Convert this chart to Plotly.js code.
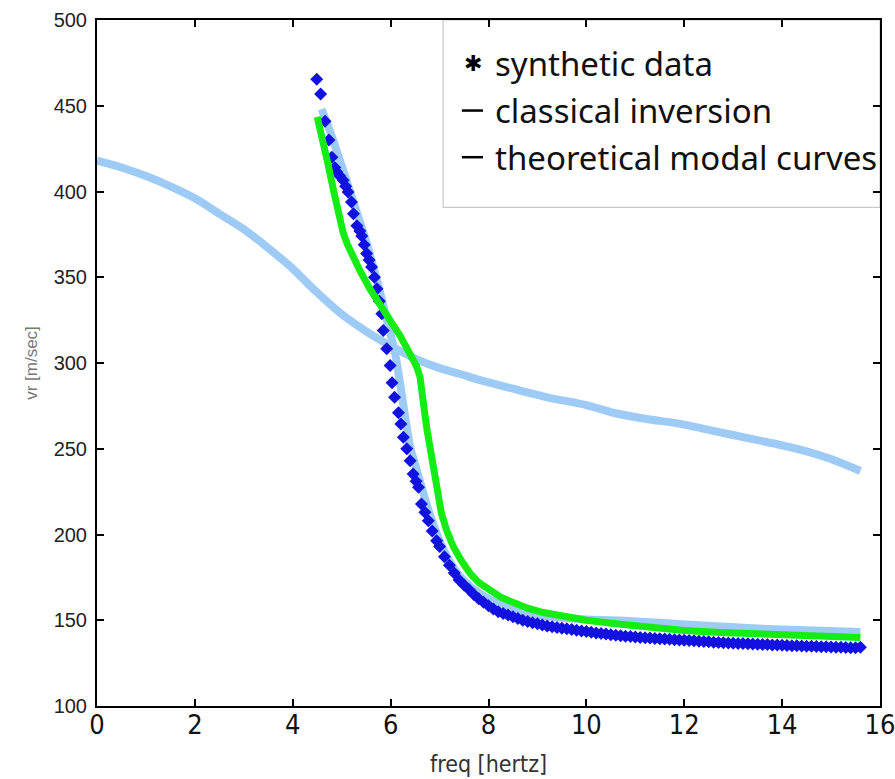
<!DOCTYPE html>
<html>
<head>
<meta charset="utf-8">
<script src="https://cdn.plot.ly/plotly-3.0.1.min.js"></script>
<style>
  html, body { margin: 0; padding: 0; background: #ffffff; }
  #chart { width: 895px; height: 779px; }
</style>
</head>
<body>
<div id="chart"></div>
<script>
// ---- data ----
// fundamental theoretical modal curve (light blue)
const fundFreq = [0.0, 0.5, 1.0, 1.5, 2.0, 2.5, 3.0, 3.5, 4.0, 4.5, 5.0, 5.5, 6.0, 6.5, 7.0, 7.42, 7.83, 8.5, 9.2, 10.0, 10.55, 11.2, 11.92, 12.5, 13.0, 13.5, 14.0, 14.5, 15.0, 15.6];
const fundVel  = [418, 414, 409, 403, 396, 387, 378, 367, 355, 341, 328.5, 318.5, 310, 302.5, 297, 293.6, 290, 285, 280, 275.5, 271, 267.5, 264.5, 261, 258, 255, 252, 248.5, 244, 237];

// higher theoretical modal curve (light blue)
const mode2Freq = [4.59, 4.75, 5.0, 5.25, 5.51, 5.75, 5.95, 6.09, 6.22, 6.3, 6.4, 6.5, 6.6, 6.7, 6.8, 6.95, 7.1, 7.3, 7.5, 7.8, 8.1, 8.5, 9.0, 9.5, 10.0, 10.69, 11.5, 12.38, 13.5, 14.5, 15.6];
const mode2Vel  = [448, 436, 415, 393, 370, 345, 322, 306, 283, 268, 251, 241, 231, 221, 212, 200, 190, 180, 173, 166, 161, 156.5, 153, 151.5, 150.5, 149.8, 148.5, 146.9, 145.2, 144.2, 143.2];

// synthetic data (blue diamonds)
const dataFreq = [4.49, 4.57, 4.66, 4.74, 4.80, 4.86, 4.90, 4.96, 5.03, 5.08, 5.13, 5.20, 5.24, 5.31, 5.37, 5.41, 5.46, 5.51, 5.56, 5.61, 5.67, 5.72, 5.77, 5.82, 5.85, 5.92, 5.99, 6.03, 6.08, 6.16, 6.21, 6.26, 6.33, 6.40, 6.46, 6.52, 6.57, 6.63, 6.70, 6.77, 6.85, 6.94,
  7.0, 7.1, 7.2, 7.3, 7.4, 7.5, 7.6, 7.7, 7.8, 7.9, 8.0, 8.1, 8.2, 8.3, 8.4, 8.5, 8.6, 8.7, 8.8, 8.9, 9.0, 9.1, 9.2, 9.3, 9.4, 9.5, 9.6, 9.7, 9.8, 9.9,
  10.0, 10.1, 10.2, 10.3, 10.4, 10.5, 10.6, 10.7, 10.8, 10.9, 11.0, 11.1, 11.2, 11.3, 11.4, 11.5, 11.6, 11.7, 11.8, 11.9,
  12.0, 12.1, 12.2, 12.3, 12.4, 12.5, 12.6, 12.7, 12.8, 12.9, 13.0, 13.1, 13.2, 13.3, 13.4, 13.5, 13.6, 13.7, 13.8, 13.9,
  14.0, 14.1, 14.2, 14.3, 14.4, 14.5, 14.6, 14.7, 14.8, 14.9, 15.0, 15.1, 15.2, 15.3, 15.4, 15.5, 15.6];
const dataVel = [465.5, 456.8, 441, 430, 420, 414, 411.4, 409, 406.6, 403, 399.7, 393.9, 387, 380, 377, 374, 369, 363.8, 360, 356, 350, 343.3, 336, 328.7, 319, 308.3, 298.5, 288.5, 280, 271, 264.5, 256.7, 250, 243, 235.3, 231, 227.5, 217.8, 213, 208, 202, 196.3,
  193, 187, 182, 177.5, 173.5, 170.5, 168, 165, 162.5, 160.5, 158.5, 156.5, 155, 154, 153, 152, 151, 150, 149.3, 148.6, 148, 147.3, 146.7, 146.2, 145.7, 145.3, 145, 144.6, 144.2, 143.8,
  143.4, 143, 142.6, 142.3, 142, 141.6, 141.2, 140.9, 140.7, 140.5, 140.2, 140, 139.8, 139.6, 139.4, 139.2, 139, 138.9, 138.7, 138.5,
  138.3, 138.2, 138, 137.8, 137.6, 137.4, 137.2, 137, 136.9, 136.8, 136.6, 136.5, 136.4, 136.3, 136.2, 136, 135.9, 135.8, 135.6, 135.5,
  135.4, 135.3, 135.2, 135.1, 135, 134.9, 134.8, 134.7, 134.6, 134.5, 134.4, 134.3, 134.2, 134.1, 134, 134, 134.2];

// classical inversion (green)
const invFreq = [4.50, 4.56, 4.62, 4.72, 4.83, 4.93, 5.03, 5.12, 5.2, 5.37, 5.58, 5.78, 6.0, 6.19, 6.40, 6.53, 6.60, 6.63, 6.67, 6.70, 6.75, 6.80, 6.86, 6.91, 6.97, 7.04, 7.15, 7.28, 7.45, 7.62, 7.8, 8.03, 8.25, 8.51, 8.8, 9.12, 9.4, 9.66, 10.0, 10.69, 11.5, 12.0, 12.73, 13.5, 14.2, 15.0, 15.6];
const invVel  = [443.5, 437, 430, 416, 401, 388, 376, 369, 364, 354, 343, 334, 325, 316, 305, 298, 292, 287, 278, 270, 260, 251, 240, 231, 221, 212, 202, 193, 184.5, 177.5, 172, 167, 163.5, 160.3, 157, 154.5, 153, 151.6, 150, 147.7, 145, 144, 142.8, 142, 141.3, 140.6, 140];

const xTickVals = [0, 2, 4, 6, 8, 10, 12, 14, 16];
const yTickVals = [100, 150, 200, 250, 300, 350, 400, 450, 500];

const legendLabels = ['synthetic data', 'classical inversion', 'theoretical modal curves'];
const xTitle = 'freq [hertz]';
const yTitle = 'vr [m/sec]';

// ---- styles ----
const lightBlue = '#9dcbf6';
const dotBlue = '#1212e0';
const green = '#14ec14';

const traces = [
  { x: fundFreq, y: fundVel, type: 'scatter', mode: 'lines',
    line: { color: lightBlue, width: 8, shape: 'spline', smoothing: 0.9 }, hoverinfo: 'skip' },
  { x: mode2Freq, y: mode2Vel, type: 'scatter', mode: 'lines',
    line: { color: lightBlue, width: 8, shape: 'spline', smoothing: 0.6 }, hoverinfo: 'skip' },
  { x: dataFreq, y: dataVel, type: 'scatter', mode: 'markers',
    marker: { symbol: 'diamond', size: 10, color: dotBlue, line: { width: 0 } } },
  { x: invFreq, y: invVel, type: 'scatter', mode: 'lines',
    line: { color: green, width: 7 } }
];

const tickFontX = { family: 'Liberation Sans Narrow, DejaVu Sans Condensed, Arial, sans-serif', size: 27, color: '#111' };
const tickFontY = { family: 'Liberation Sans, Arial, sans-serif', size: 20, color: '#222' };
const legFont = { family: 'Noto Sans, Open Sans, sans-serif', size: 33, color: '#111' };

// legend rows in paper coordinates
const rowY = [0.937, 0.868, 0.800];
const annotations = legendLabels.map((t, i) => ({
  xref: 'paper', yref: 'paper', x: 0.506, y: rowY[i], xanchor: 'left', yanchor: 'middle',
  text: t, showarrow: false, font: legFont
}));
annotations.push({
  xref: 'paper', yref: 'paper', x: 0.480, y: rowY[0], xanchor: 'center', yanchor: 'middle',
  text: '✱', showarrow: false, font: { family: 'DejaVu Sans, sans-serif', size: 22, color: '#000' }
});

const shapes = [
  { type: 'rect', xref: 'paper', yref: 'paper', x0: 0.442, x1: 1.0, y0: 0.727, y1: 1.0,
    line: { color: '#c8c8c8', width: 1.2 }, fillcolor: '#ffffff', layer: 'below' },
  { type: 'line', xref: 'paper', yref: 'paper', x0: 0.466, x1: 0.493, y0: rowY[1], y1: rowY[1],
    line: { color: '#000', width: 2.5 } },
  { type: 'line', xref: 'paper', yref: 'paper', x0: 0.466, x1: 0.493, y0: rowY[2], y1: rowY[2],
    line: { color: '#000', width: 2.5 } }
];

const layout = {
  width: 895, height: 779,
  margin: { l: 97, r: 15, t: 20, b: 73 },
  paper_bgcolor: '#ffffff', plot_bgcolor: '#ffffff',
  showlegend: false,
  xaxis: {
    range: [0, 16.0001], tickvals: xTickVals, ticktext: xTickVals.map(String),
    showgrid: false, zeroline: false,
    showline: true, linecolor: '#000', linewidth: 2, mirror: 'ticks',
    ticks: 'inside', ticklen: 7, tickwidth: 2, tickcolor: '#000',
    tickfont: tickFontX, ticklabelstandoff: -6, ticklabeloverflow: 'allow',
    title: { text: xTitle, font: { family: 'Liberation Sans Narrow, DejaVu Sans Condensed, Arial, sans-serif', size: 23, color: '#333' }, standoff: 16 }
  },
  yaxis: {
    range: [100, 500.0001], tickvals: yTickVals, ticktext: yTickVals.map(String),
    showgrid: false, zeroline: false,
    showline: true, linecolor: '#000', linewidth: 2, mirror: 'ticks',
    ticks: 'inside', ticklen: 7, tickwidth: 2, tickcolor: '#000',
    tickfont: tickFontY, ticklabelstandoff: 4, ticklabeloverflow: 'allow',
    title: { text: yTitle, font: { family: 'Liberation Sans, Arial, sans-serif', size: 17, color: '#777' }, standoff: 12 }
  },
  annotations: annotations,
  shapes: shapes
};

Plotly.newPlot('chart', traces, layout, { staticPlot: true, displayModeBar: false });
</script>
</body>
</html>
